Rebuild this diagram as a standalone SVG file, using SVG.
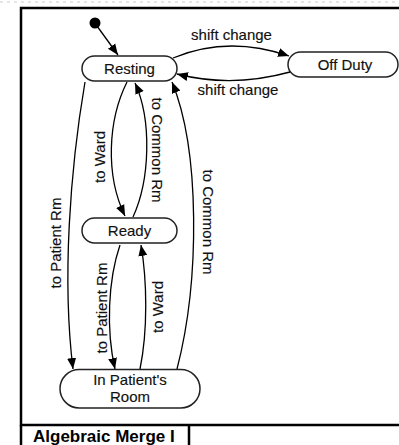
<svg xmlns="http://www.w3.org/2000/svg" width="399" height="445" viewBox="0 0 399 445">
  <defs>
    <marker id="arrow" markerUnits="userSpaceOnUse" markerWidth="12" markerHeight="12" viewBox="0 0 12 12" refX="11" refY="6" orient="auto">
      <path d="M0,1.5 L11,6 L0,10.5 Z" fill="#000"/>
    </marker>
  </defs>
  <style>
    .frame { fill: none; stroke: #000; stroke-width: 2.5; }
    .state rect { fill: #fff; stroke: #222; stroke-width: 1.5; }
    .lbl { font-family: "Liberation Sans", Arial, sans-serif; font-size: 15px; fill: #111; stroke: #111; stroke-width: 0.15; }
    .mid { text-anchor: middle; }
    .edge { fill: none; stroke: #000; stroke-width: 1.3; marker-end: url(#arrow); }
    .title { font-family: "Liberation Sans", Arial, sans-serif; font-size: 17px; font-weight: bold; fill: #000; }
  </style>

  <!-- faint page edge -->
  <line x1="0" y1="2" x2="399" y2="2" stroke="#ccc" stroke-width="1" stroke-dasharray="3,4"/>

  <!-- diagram frame -->
  <g id="frame">
    <path class="frame" d="M399,8 H21 V425 H399"/>
    <path class="frame" d="M21,425 V446 M189,425 V446"/>
    <text class="title" x="33" y="441.5">Algebraic Merge I</text>
  </g>

  <!-- states -->
  <g id="initial">
    <circle cx="95" cy="23" r="5.5" fill="#000"/>
  </g>
  <g id="resting" class="state">
    <rect x="82" y="56" width="95" height="25" rx="12.5"/>
    <text class="lbl mid" x="129.5" y="74">Resting</text>
  </g>
  <g id="off-duty" class="state">
    <rect x="288" y="52" width="110" height="25" rx="12.5"/>
    <text class="lbl mid" x="345" y="69.5">Off Duty</text>
  </g>
  <g id="ready" class="state">
    <rect x="82" y="218" width="95" height="25" rx="12.5"/>
    <text class="lbl mid" x="129.5" y="236">Ready</text>
  </g>
  <g id="in-patients-room" class="state">
    <rect x="60" y="369.5" width="140" height="38.5" rx="19.25"/>
    <text class="lbl mid" x="130" y="385">In Patient's</text>
    <text class="lbl mid" x="130" y="402">Room</text>
  </g>

  <!-- transitions -->
  <g id="connectors">
    <path class="edge" d="M97,26 L118,55"/>
    <path class="edge" d="M173,58 Q228,35 289,56"/>
    <path class="edge" d="M290,72 Q232,88 177,74"/>
    <path class="edge" d="M85,82 C70,170 62,280 73,369"/>
    <path class="edge" d="M127,82 C108,120 105,175 125,216"/>
    <path class="edge" d="M133,217 C150,180 152,120 135,83"/>
    <path class="edge" d="M120,245 C108,280 106,330 115,369"/>
    <path class="edge" d="M140,369 C148,330 147,280 141,245"/>
    <path class="edge" d="M177,369 C200,280 200,150 172,82"/>
  </g>

  <!-- transition labels -->
  <g id="edge-labels">
    <text class="lbl mid" x="231.5" y="40">shift change</text>
    <text class="lbl mid" x="238" y="95">shift change</text>
    <text class="lbl mid" transform="translate(61,243) rotate(-90)">to Patient Rm</text>
    <text class="lbl mid" transform="translate(105,157) rotate(-90)">to Ward</text>
    <text class="lbl mid" transform="translate(152,150) rotate(90)">to Common Rm</text>
    <text class="lbl mid" transform="translate(107,308) rotate(-90)">to Patient Rm</text>
    <text class="lbl mid" transform="translate(163,307) rotate(-90)">to Ward</text>
    <text class="lbl mid" transform="translate(203,222) rotate(90)">to Common Rm</text>
  </g>
</svg>
